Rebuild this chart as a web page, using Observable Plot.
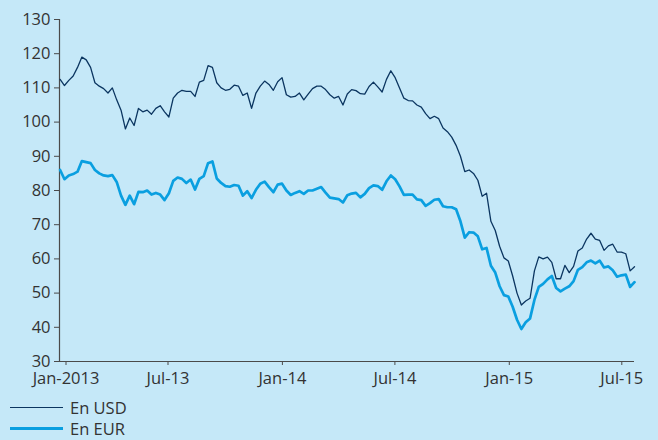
<!DOCTYPE html>
<html>
<head>
<meta charset="utf-8">
<script src="https://cdn.jsdelivr.net/npm/d3@7"></script>
<script src="https://cdn.jsdelivr.net/npm/@observablehq/plot@0.6"></script>
<style>
  html, body { margin: 0; padding: 0; background: #c5e8f8; }
  body { width: 658px; height: 440px; overflow: hidden; font-family: "Open Sans", sans-serif; color: #333; }
  #legend { padding-top: 5px; padding-left: 10px; }
  .row { display: flex; align-items: center; height: 21px; font-size: 16.5px; }
  .sw { width: 53px; margin-right: 7px; }
</style>
</head>
<body>
<div id="chart"></div>
<div id="legend"></div>
<script>
// Weekly observations starting 2 Jan 2013
const startDate = "2013-01-02";
const usd = [
  112.5, 110.7, 112.2, 113.5, 116, 119, 118.2, 116, 111.5, 110.5,
  109.8, 108.5, 110, 106.5, 103.5, 98, 101.2, 99, 104, 103,
  103.5, 102.3, 104, 104.8, 103, 101.5, 107, 108.5, 109.3, 109,
  109, 107.5, 111.7, 112.2, 116.5, 116, 111.5, 110, 109.3, 109.6,
  110.8, 110.5, 107.8, 108.5, 104, 108.5, 110.5, 112, 111, 109.3,
  111.8, 113, 108, 107.3, 107.5, 108.5, 106.5, 108.2, 109.8, 110.5,
  110.5, 109.5, 108, 107, 107.5, 105, 108.2, 109.5, 109.2, 108.3,
  108.2, 110.4, 111.7, 110.3, 108.8, 112.5, 115, 113, 110, 107,
  106.3, 106.2, 105, 104.4, 102.5, 101, 101.7, 101, 98.3, 97.2,
  95.6, 93.2, 90, 85.5, 86, 85, 83, 78.3, 79.2, 71,
  68.3, 63.7, 60.3, 59.4, 55, 50, 46.5, 47.7, 48.5, 56.5,
  60.6, 60, 60.5, 59, 54.2, 54.2, 58.1, 56, 57.8, 62.3,
  63.2, 65.8, 67.5, 65.8, 65.4, 62.5, 63.8, 64.3, 62, 62,
  61.5, 56.5, 57.7
];
const eur = [
  86, 83.3, 84.4, 84.8, 85.5, 88.6, 88.3, 88, 86, 85,
  84.4, 84.2, 84.5, 82.5, 78.5, 75.8, 78.5, 76, 79.6, 79.5,
  80, 78.8, 79.3, 78.8, 77.2, 79.2, 82.8, 83.8, 83.4, 82.2,
  83.2, 80.3, 83.4, 84.2, 88, 88.5, 83.5, 82.2, 81.3, 81.1,
  81.6, 81.4, 78.5, 79.8, 77.8, 80.2, 82, 82.6, 81, 79.5,
  81.7, 82, 80, 78.7, 79.3, 79.8, 79, 80, 80, 80.5,
  81, 79.4, 77.9, 77.7, 77.5, 76.5, 78.6, 79.1, 79.3, 78,
  79, 80.7, 81.5, 81.3, 80.2, 82.7, 84.4, 83.3, 81.2, 78.7,
  78.8, 78.8, 77.4, 77.2, 75.5, 76.3, 77.3, 77.5, 75.4, 75.1,
  75.1, 74.5, 71, 66.2, 67.8, 67.7, 66.6, 62.8, 63.2, 58,
  56, 52, 49.4, 49, 46, 42.2, 39.5, 41.5, 42.6, 48,
  51.8, 52.7, 54, 55, 51.5, 50.5, 51.3, 52, 53.5, 56.8,
  57.6, 59, 59.5, 58.7, 59.5, 57.5, 57.8, 56.7, 54.8, 55.2,
  55.4, 51.8, 53.2
];
const yTicks = [30, 40, 50, 60, 70, 80, 90, 100, 110, 120, 130];
const xTickDates = ["2013-01-01", "2013-07-01", "2014-01-01", "2014-07-01", "2015-01-01", "2015-07-01"];
const xTickLabels = ["Jan-2013", "Jul-13", "Jan-14", "Jul-14", "Jan-15", "Jul-15"];
const seriesNames = ["En USD", "En EUR"];
const seriesColors = ["#0b3560", "#0a9fe0"];
const seriesWidths = [1.3, 2.7];

const start = new Date(startDate + "T00:00:00Z");
const dates = usd.map((_, i) => d3.utcDay.offset(start, 7 * i));
const table = dates.map((d, i) => ({date: d, usd: usd[i], eur: eur[i]}));
const tickDates = xTickDates.map(s => new Date(s + "T00:00:00Z"));
const labelOf = d => xTickLabels[tickDates.findIndex(t => +t === +d)];
const x0 = new Date("2013-01-01T00:00:00Z");
const x1 = new Date("2015-07-15T00:00:00Z");
const axisColor = "#4a4a4a";

const chart = Plot.plot({
  width: 658,
  height: 392,
  marginLeft: 59,
  marginRight: 24,
  marginTop: 19,
  marginBottom: 31,
  style: {background: "transparent", fontFamily: "'Open Sans', sans-serif", fontSize: "16px", color: "#333"},
  x: {type: "utc", domain: [x0, x1]},
  y: {domain: [30, 130]},
  marks: [
    Plot.axisY({ticks: yTicks, tickSize: 5, tickPadding: 4, label: null, stroke: axisColor, fill: "#333", fontSize: 16.5}),
    Plot.axisX({ticks: tickDates.slice(0, 1), tickFormat: labelOf, tickSize: 4, tickPadding: 7, dx: 6.5, label: null, stroke: axisColor, fill: "#333", fontSize: 16.5}),
    Plot.axisX({ticks: tickDates.slice(1), tickFormat: labelOf, tickSize: 4, tickPadding: 7, dx: -4, label: null, stroke: axisColor, fill: "#333", fontSize: 16.5}),
    Plot.ruleX([x0], {y1: 30, y2: 130, stroke: axisColor, strokeWidth: 1.2}),
    Plot.ruleY([30], {x1: x0, x2: x1, stroke: axisColor, strokeWidth: 1.2}),
    Plot.line(table, {x: "date", y: "eur", stroke: seriesColors[1], strokeWidth: seriesWidths[1], strokeLinejoin: "round"}),
    Plot.line(table, {x: "date", y: "usd", stroke: seriesColors[0], strokeWidth: seriesWidths[0], strokeLinejoin: "round"})
  ]
});
document.getElementById("chart").appendChild(chart);

const legend = document.getElementById("legend");
seriesNames.forEach((name, i) => {
  const row = document.createElement("div");
  row.className = "row";
  const sw = document.createElement("div");
  sw.className = "sw";
  sw.style.height = (i === 0 ? 1.5 : 3) + "px";
  sw.style.background = seriesColors[i];
  const t = document.createElement("span");
  t.textContent = name;
  row.appendChild(sw);
  row.appendChild(t);
  legend.appendChild(row);
});
</script>
</body>
</html>
